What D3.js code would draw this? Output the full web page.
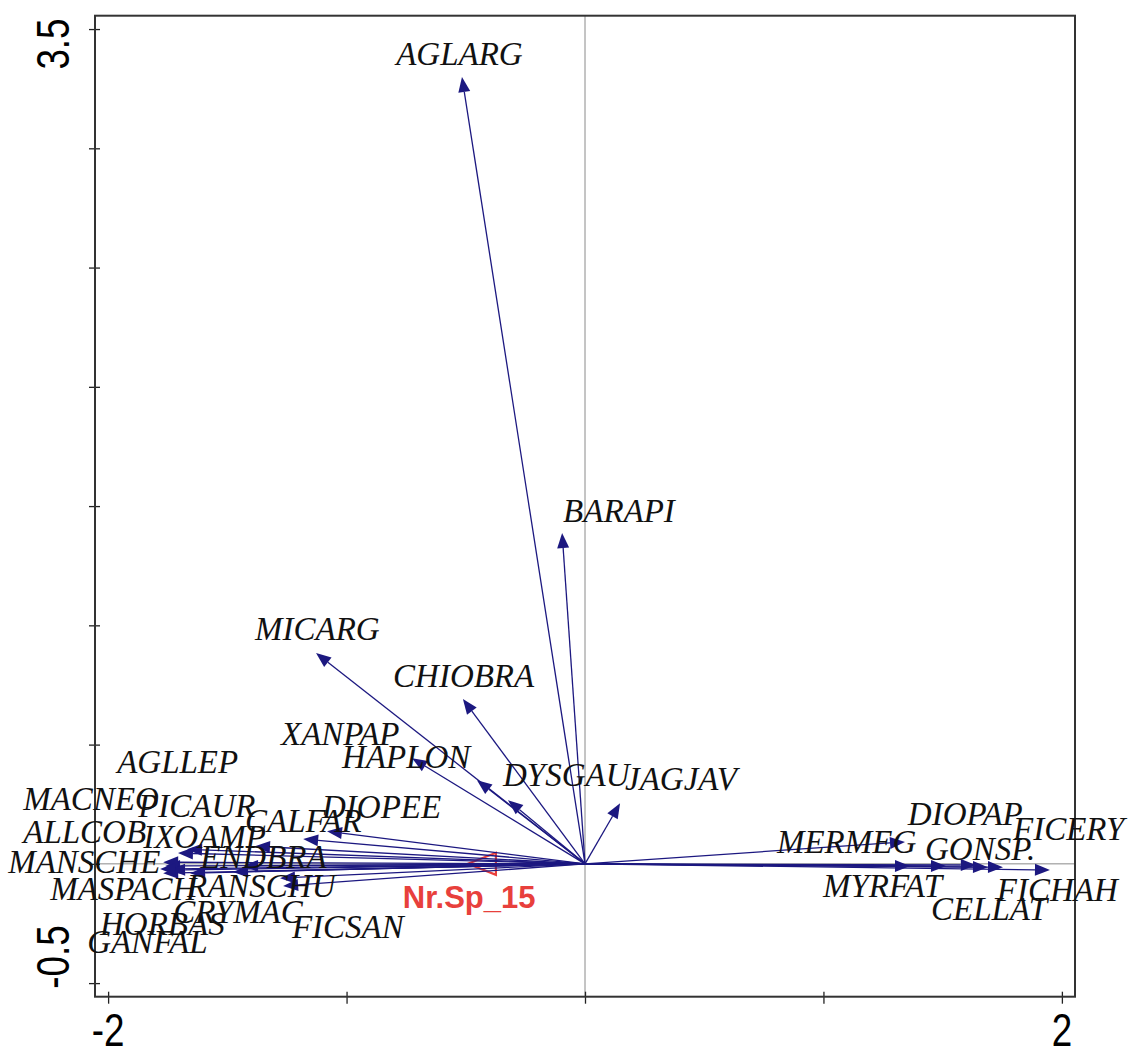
<!DOCTYPE html>
<html><head><meta charset="utf-8">
<script src="https://cdn.jsdelivr.net/npm/d3@7"></script>
<style>html,body{margin:0;padding:0;background:#fff;}</style>
</head><body>
<svg id="chart" width="1131" height="1051"></svg>
<script>
// Species names and arrow endpoints (axis 1, axis 2)
const species = ["AGLARG","BARAPI","MICARG","CHIOBRA","XANPAP","HAPLON","DYSGAU","JAGJAV",
  "CALFAR","DIOPEE","PICAUR","ALLCOB","MACNEO","AGLLEP","MANSCHE","IXOAMP","ENDBRA","MASPACH",
  "CRYMAC","HORBAS","GANFAL","RANSCHU","FICSAN",
  "MERMEG","MYRFAT","GONSP.","DIOPAP","CELLAT","FICERY","FICHAH"];
const axis1 = [-0.516,-0.096,-1.128,-0.512,-0.725,-0.453,-0.323,0.147,
  -1.082,-1.182,-1.384,-1.669,-1.707,-1.761,-1.769,-1.434,-1.476,-1.769,
  -1.656,-1.740,-1.782,-1.266,-1.279,
  1.342,1.363,1.514,1.639,1.690,1.753,1.950];
const axis2 = [3.299,1.387,0.884,0.691,0.443,0.351,0.267,0.254,
  0.137,0.104,0.074,0.061,0.045,-0.009,0.007,-0.009,-0.034,-0.039,
  -0.039,-0.026,-0.022,-0.093,-0.060,
  0.092,-0.009,-0.009,-0.005,-0.014,-0.014,-0.026];
// Label anchor (start of text, baseline) in plot units
const labelX = [-0.792,-0.092,-1.384,-0.805,-1.275,-1.019,-0.344,0.168,
  -1.426,-1.103,-1.874,-2.356,-2.356,-1.962,-2.419,-1.853,-1.614,-2.243,
  -1.727,-2.034,-2.088,-1.669,-1.229,
  0.805,0.998,1.426,1.354,1.451,1.795,1.727];
const labelY = [3.349,1.433,0.938,0.741,0.498,0.402,0.326,0.309,
  0.134,0.192,0.196,0.088,0.225,0.380,-0.039,0.066,-0.017,-0.152,
  -0.248,-0.299,-0.374,-0.139,-0.311,
  0.045,-0.139,0.016,0.162,-0.235,0.099,-0.156];
// Supplementary variable
const suppName = ["Nr.Sp_15"];
const suppX = [-0.491];
const suppY = [0.0];
const suppLabelX = [-0.764];
const suppLabelY = [-0.186];
// Axis ticks
const xTicks = [-2,-1,0,1,2];
const yTicks = [-0.5,0,0.5,1,1.5,2,2.5,3,3.5];
const xTickLabels = ["-2","","","","2"];
const yTickLabels = ["-0.5","","","","","","","","3.5"];

const svg = d3.select("#chart");
const x = d3.scaleLinear().domain([-2.055, 2.055]).range([95, 1075]);
const y = d3.scaleLinear().domain([-0.557, 3.556]).range([996.7, 15.7]);
const navy = "#1c1880";

// zero lines
svg.append("line").attr("x1", x(0)).attr("x2", x(0)).attr("y1", y(3.556)).attr("y2", y(-0.557))
  .attr("stroke", "#8a8a8a").attr("stroke-width", 1);
svg.append("line").attr("x1", x(-2.055)).attr("x2", x(2.055)).attr("y1", y(0)).attr("y2", y(0))
  .attr("stroke", "#8a8a8a").attr("stroke-width", 1);

// axes ticks
const yAxis = svg.append("g").attr("transform", `translate(${x(-2.055)},0)`)
  .call(d3.axisLeft(y).tickValues(yTicks).tickSize(6).tickSizeOuter(0).tickFormat(""));
yAxis.select(".domain").remove();
yAxis.selectAll(".tick line").attr("x2", 5).attr("x1", -6).attr("stroke", "#222").attr("stroke-width", 1.3);
const xAxis = svg.append("g").attr("transform", `translate(0,${y(-0.557)})`)
  .call(d3.axisBottom(x).tickValues(xTicks).tickSize(6).tickSizeOuter(0).tickFormat(""));
xAxis.select(".domain").remove();
xAxis.selectAll(".tick line").attr("y1", -5).attr("y2", 7).attr("stroke", "#222").attr("stroke-width", 1.3);

// box
svg.append("rect").attr("x", x(-2.055)).attr("y", y(3.556))
  .attr("width", x(2.055) - x(-2.055)).attr("height", y(-0.557) - y(3.556))
  .attr("fill", "none").attr("stroke", "#333").attr("stroke-width", 2);

// tick labels
xTicks.forEach((t, i) => {
  if (!xTickLabels[i]) return;
  svg.append("text").attr("transform", `translate(${x(t)},${y(-0.557) + 49}) scale(0.8,1)`)
    .attr("text-anchor", "middle").attr("font-family", "Liberation Sans, Arial, sans-serif")
    .attr("font-size", 46).attr("fill", "#000").text(xTickLabels[i]);
});
yTicks.forEach((t, i) => {
  if (!yTickLabels[i]) return;
  const off = t > 0 ? 15 : -26;
  svg.append("text").attr("transform", `translate(${x(-2.055) - 26},${y(t) + off}) rotate(-90) scale(0.8,1)`)
    .attr("text-anchor", "middle").attr("font-family", "Liberation Sans, Arial, sans-serif")
    .attr("font-size", 46).attr("fill", "#000").text(yTickLabels[i]);
});

// arrows
const ox = x(0), oy = y(0);
function arrowHead(x1, y1, len, half) {
  const dx = x1 - ox, dy = y1 - oy, L = Math.hypot(dx, dy);
  const ux = dx / L, uy = dy / L;
  const bx = x1 - ux * len, by = y1 - uy * len;
  return [[x1, y1], [bx - uy * half, by + ux * half], [bx + uy * half, by - ux * half]];
}

// supplementary arrow (drawn under species arrows)
suppName.forEach((s, i) => {
  const tx = x(suppX[i]), ty = y(suppY[i]);
  const hd = arrowHead(tx, ty, 28, 11);
  svg.append("line").attr("x1", ox).attr("y1", oy).attr("x2", tx).attr("y2", ty)
    .attr("stroke", "#e8403c").attr("stroke-width", 1.5);
  svg.append("polygon").attr("points", hd.map(p => p.join(",")).join(" "))
    .attr("fill", "none").attr("stroke", "#e8403c").attr("stroke-width", 2.2);
});

const g = svg.append("g");
species.forEach((s, i) => {
  const tx = x(axis1[i]), ty = y(axis2[i]);
  const hd = arrowHead(tx, ty, 15, 6);
  const bx = (hd[1][0] + hd[2][0]) / 2, by = (hd[1][1] + hd[2][1]) / 2;
  g.append("line").attr("x1", ox).attr("y1", oy).attr("x2", bx).attr("y2", by)
    .attr("stroke", navy).attr("stroke-width", 1.3);
  g.append("polygon").attr("points", hd.map(p => p.join(",")).join(" ")).attr("fill", navy);
});

suppName.forEach((s, i) => {
  svg.append("text").attr("x", x(suppLabelX[i])).attr("y", y(suppLabelY[i]))
    .attr("font-family", "Liberation Sans, Arial, sans-serif").attr("font-weight", "bold")
    .attr("font-size", 31).attr("fill", "#e8403c").text(s);
});

// species labels
species.forEach((s, i) => {
  svg.append("text").attr("x", x(labelX[i])).attr("y", y(labelY[i]))
    .attr("font-family", "Liberation Serif, Times New Roman, serif").attr("font-style", "italic")
    .attr("font-size", 33).attr("fill", "#111").text(s);
});
</script>
</body></html>
